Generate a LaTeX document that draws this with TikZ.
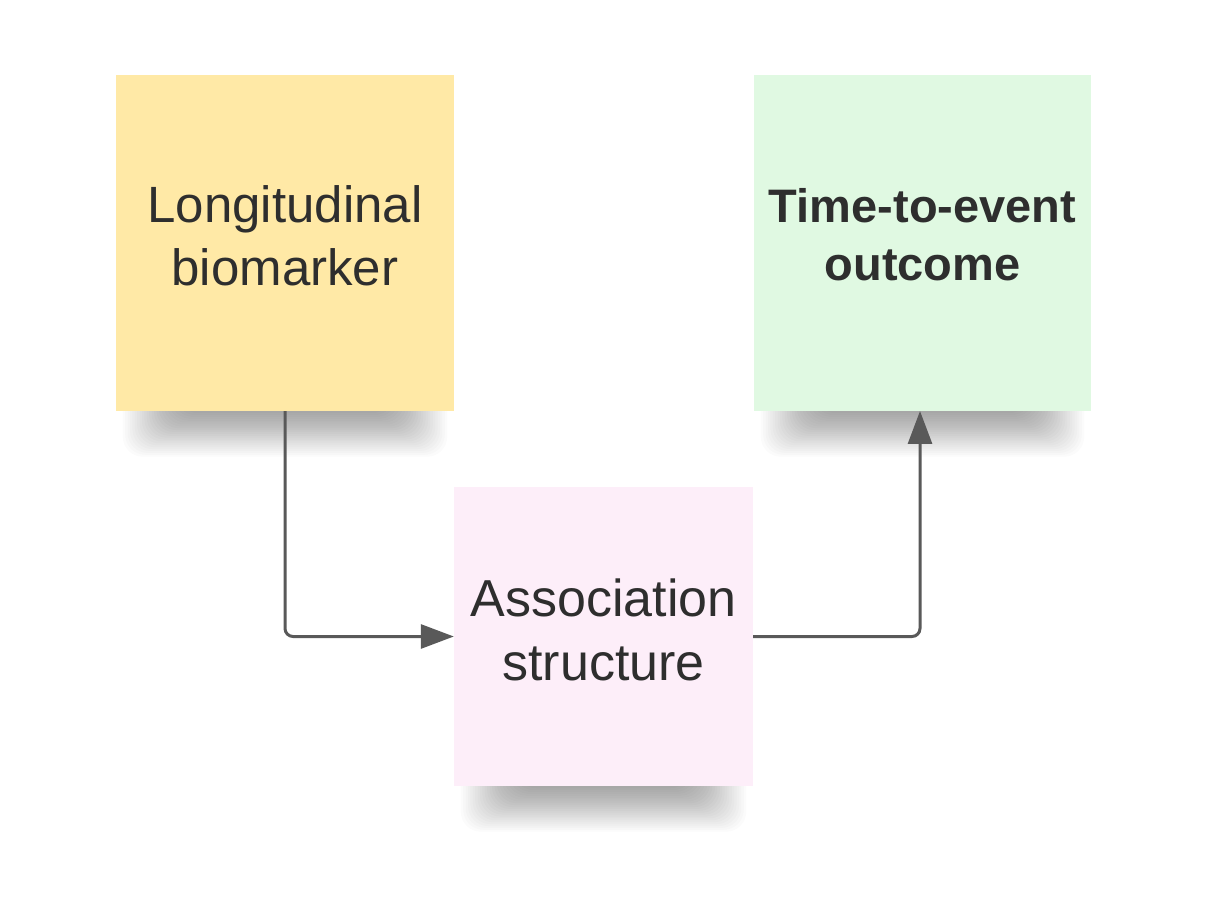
\documentclass[tikz,border=0pt]{standalone}
\usepackage{fontspec}
\setmainfont{Liberation Sans}
\usetikzlibrary{arrows.meta}
\definecolor{ybox}{HTML}{FFE9A6}
\definecolor{gbox}{HTML}{E0F9E2}
\definecolor{pbox}{HTML}{FDEEF9}
\definecolor{txt}{HTML}{2E2E2E}
\definecolor{lin}{HTML}{595959}
\tikzset{
  sticky/.style={rectangle, inner sep=0pt},
  stickytext/.style={inner sep=0pt, text=txt, align=center},
  conn/.style={draw=lin, line width=3pt, rounded corners=8pt, -{Triangle[length=33pt,width=24pt]}},
}
\newcommand{\boxshadow}[3]{% x0, x1, ybottom
  \foreach \i in {0,...,23}{
    \fill[black, opacity=0.014, rounded corners=20pt]
      ({#1+62-\i*2.4}, {#3-2-\i*1.9}) rectangle ({#2-62+\i*2.4}, {#3+24});
  }
}
\begin{document}
\begin{tikzpicture}[x=1pt,y=1pt]
\useasboundingbox (0,0) rectangle (1209,900);
\fill[white] (0,0) rectangle (1209,900);
% shadows
\boxshadow{116}{454}{489}
\boxshadow{754}{1091}{489}
\boxshadow{454}{753}{114}
% boxes
\node[sticky, fill=ybox, minimum width=338pt, minimum height=336pt] (bio) at (285,657) {};
\node[sticky, fill=gbox, minimum width=337pt, minimum height=336pt] (tte) at (922.5,657) {};
\node[sticky, fill=pbox, minimum width=299pt, minimum height=299pt] (assoc) at (603.5,263.5) {};
% texts
\node[stickytext, font=\fontsize{51}{63}\selectfont] (biotxt) at ([yshift=7pt]bio.center) {Longitudinal\\biomarker};
\node[stickytext, font=\fontsize{47}{58}\selectfont\bfseries] (ttetxt) at ([yshift=8pt]tte.center) {Time-to-event\\outcome};
\node[stickytext, font=\fontsize{52}{64}\selectfont] (assoctxt) at ([yshift=7pt]assoc.center) {Association\\structure};
% connectors
\draw[conn] (bio.south) |- (assoc.west);
\coordinate (tin) at (920,489);
\draw[conn] (assoc.east) -| (tin);
\end{tikzpicture}
\end{document}
